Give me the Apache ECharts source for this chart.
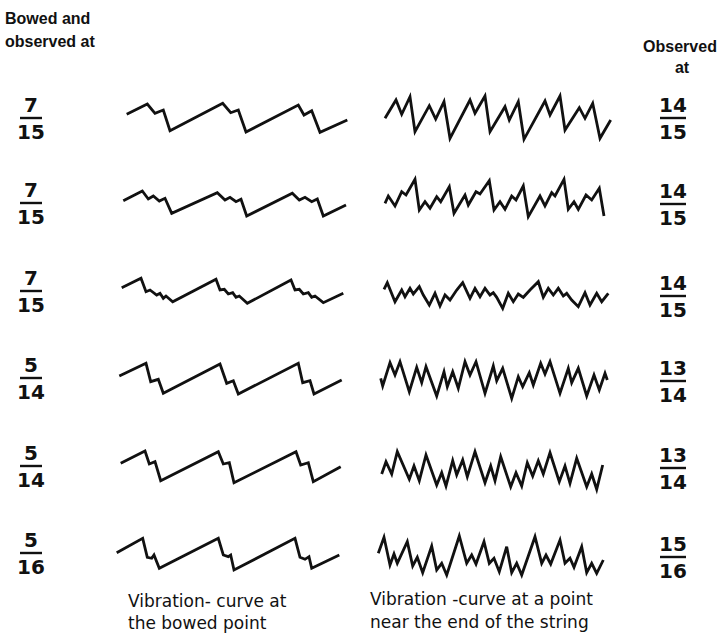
<!DOCTYPE html>
<html>
<head>
<meta charset="utf-8">
<script src="https://cdn.jsdelivr.net/npm/echarts@6/dist/echarts.min.js"></script>
<style>
  html, body { margin: 0; padding: 0; background: #fff; }
  #chart { width: 718px; height: 636px; }
</style>
</head>
<body>
<div id="chart"></div>
<script>
// Vibration curves of a bowed string: displacement (up positive) against time.
// Left column: curve at the bowed point; right column: curve near the end of the string.

const bowedAtNum = ['7', '7', '7', '5', '5', '5'];
const bowedAtDen = ['15', '15', '15', '14', '14', '16'];
const observedAtNum = ['14', '14', '14', '13', '13', '15'];
const observedAtDen = ['15', '15', '15', '14', '14', '16'];

const bowedCurve1 = [[16.7,3.7],[37.3,14],[45,4.7],[53.3,8],[60,-12.7],[112.7,14.7],[120.7,5.3],[128.3,8],[136,-14],[188.3,13],[194,3],[201.7,7.3],[210,-14.3],[237.3,-2]];
const endCurve1 = [[15,-0.3],[26,18],[31.7,3.7],[40,21.3],[45,-13.7],[59.3,12.3],[65.7,-1],[74,16.3],[80,-20.3],[100,18],[105,4.7],[115,22],[120,-13.7],[135,11.3],[139.3,-2],[148.3,16.3],[154,-21.3],[175,17],[180,3],[190,22],[195,-12],[209.3,10.3],[215,-0.3],[222.7,14.7],[230,-20.3],[240.7,-2]];

const bowedCurve2 = [[13.3,2.3],[32.3,12],[38.3,4],[43.3,7],[49.3,2],[55,4.7],[61.7,-10.3],[107.3,10.3],[115,3],[120,5.7],[126,1.3],[131,3.7],[136.7,-13],[182.3,9.7],[189.3,3],[195,5.7],[201.7,1.3],[207.3,4],[213.3,-13],[236,-2]];
const endCurve2 = [[15,-0.3],[18.3,7],[25,-3],[31.7,11.3],[36,8],[45,23.7],[49.3,-7],[55,1.3],[60,-5.3],[66.7,6.3],[70.7,1.3],[79.3,16.3],[84,-10.3],[95,8],[98.3,-2],[106,11.3],[110,9],[119.3,22.3],[124,-7],[130,1.3],[135,-6.3],[141.7,7],[146,3],[153.3,17],[158.3,-13.7],[170,7],[175,-3],[181.7,10.3],[185,7],[194,23.7],[198.3,-6.3],[204,1.3],[208.3,-6.3],[216,8],[221.7,3],[229.3,14.7],[234,-13]];

const bowedCurve3 = [[11.7,3.3],[31,12.7],[36,-0.7],[40,1],[46.7,-4],[50,-2.3],[53.3,-7.3],[56,-5],[62.7,-10.7],[106,11.7],[110,1],[114.3,1.7],[118.3,-3],[122.7,-1.7],[126,-6.3],[129.3,-5],[137.3,-12.3],[181,11],[185,1],[189.3,1.7],[193.3,-3],[198.3,-1.7],[201.7,-6.3],[205,-5],[213.3,-11.7],[233.3,-2.3]];
const endCurve3 = [[14,1.7],[17.3,8.3],[25,-10.7],[31.7,1],[35,-5.7],[40,2.7],[43.3,-3],[49.3,4.3],[53.3,-4],[59.3,-14],[65,-2.3],[70,-15],[75,-4],[80,-9],[86.7,1],[92.7,8.3],[100,-7.3],[105,2.7],[110,-5.7],[115,2.7],[120,-4],[123.3,-1.7],[126.7,-6.3],[132.7,-17.3],[138.3,-2.3],[143.3,-10.7],[148.3,-3],[153.3,-6.3],[160,1],[168.3,9.3],[173.3,-6.3],[178.3,2.7],[183.3,-4],[188.3,2.7],[193.3,-5],[196.7,-2.3],[201.7,-9],[208.3,-15.7],[215,-1.7],[220,-14],[226.7,-2.3],[231.7,-10.7],[238.3,-2.3]];

const bowedCurve4 = [[9.3,2],[36,14.7],[40.7,-3.7],[48.3,-1.3],[53.3,-15.3],[110,14],[116.7,-5.3],[123.3,-2.7],[128.3,-16],[188.3,14.7],[192.7,-4.7],[200,-2.7],[204,-16],[231.7,-2]];
const endCurve4 = [[10.7,-0.3],[12.7,-8],[20,15.3],[25,3],[30,16.3],[39.3,-13.7],[46.7,10.7],[51.7,-4.7],[56,11.3],[66.7,-18],[74,6.3],[77.3,-8.7],[82.7,6.3],[88.3,-10.3],[95,16.3],[100,3],[106,16.3],[115,-15.3],[123.3,12],[126.7,-2.7],[132.7,9.7],[141.7,-20.3],[148.3,1.3],[152.7,-8.7],[159.3,5.3],[163.3,-7],[170.7,14.7],[175,4],[180,16.3],[190,-15.3],[198.3,9.7],[201.7,-4.7],[208.3,9.7],[216.7,-18],[224,3],[229.3,-12],[235,4.7],[237.3,-2]];

const bowedCurve5 = [[10.7,2.7],[35,15],[39.3,2],[45,4.3],[50.7,-14.7],[108.3,14.3],[113.3,2],[119.3,3.3],[124,-16.7],[186,14.3],[190.7,1],[198.3,3.3],[203.3,-15.7],[230.7,-0.7]];
const endCurve5 = [[11.7,-8],[16,4.3],[21.7,-8],[27.3,14.3],[39.3,-13.3],[44,0],[49.3,-14.7],[56,11],[66.7,-19],[71.7,-6.7],[76,-20],[82.7,5.3],[86.7,-9],[92.7,6],[97.3,-10.7],[105,14.3],[115,-16.7],[120.7,0],[125,-14.7],[130.7,9.3],[140.7,-20.7],[146,-6.7],[151.7,-20],[157.3,3.3],[162.7,-10],[168.3,5.3],[173.3,-8],[180,13.3],[189.3,-15.7],[195,0],[200,-17.3],[206.7,7.7],[216.7,-20.7],[221.7,-8],[226.7,-23.3],[232.7,1]];

const bowedCurve6 = [[6.7,0.3],[32.7,14.7],[37.3,-4.3],[41.7,-5.3],[44,-2],[49.3,-15.3],[108.3,14.7],[113.3,-2],[118.3,-3.7],[120.7,-2],[124,-17],[185,14.7],[190,-4.3],[195,-6.3],[199,-3.7],[201.7,-15.3],[229.3,-2]];
const endCurve6 = [[8.3,-0.3],[14,15.7],[20,-12],[24,-1],[27.3,-10.3],[37.3,11.3],[42.7,-13],[47.3,-4.3],[52.7,-19.7],[61.7,7],[66.7,-17],[71.7,-10.3],[76.7,-22],[89.3,17],[96.7,-10.3],[101.7,-2],[106,-11],[114,11.3],[119.3,-10.3],[124,-5.3],[129.3,-18.7],[136.7,6.3],[141.7,-19.7],[146.7,-10.3],[151.7,-22],[165,16.3],[171.7,-10.3],[176,-2],[180.7,-11],[190,13],[195,-10.3],[200,-5.3],[204,-14.3],[211.7,6.3],[216.7,-19.7],[221.7,-10.3],[226.7,-20.3],[233.3,-7]];

const bowedCurves = [bowedCurve1, bowedCurve2, bowedCurve3, bowedCurve4, bowedCurve5, bowedCurve6];
const endCurves = [endCurve1, endCurve2, endCurve3, endCurve4, endCurve5, endCurve6];

// Layout
const rowCenters = [118, 203, 291, 378, 466, 553];
const rightFracCenters = [118, 204, 296, 381, 468, 557];
const plotW = 250, plotH = 60;
const leftPlotX = 110, rightPlotX = 370;
const INK = '#111';
const FONT = '"DejaVu Sans", sans-serif';
const HEAD_FONT = '"Liberation Sans", Arial, sans-serif';

const grids = [], xAxes = [], yAxes = [], series = [];
function addCurve(data, left, cy) {
  const i = grids.length;
  grids.push({ left: left, top: cy - plotH / 2, width: plotW, height: plotH, containLabel: false });
  xAxes.push({ gridIndex: i, type: 'value', min: 0, max: plotW, show: false });
  yAxes.push({ gridIndex: i, type: 'value', min: -plotH / 2, max: plotH / 2, show: false });
  series.push({
    type: 'line', xAxisIndex: i, yAxisIndex: i, data: data,
    showSymbol: false, symbol: 'none', smooth: false,
    lineStyle: { color: INK, width: 2.8, join: 'miter', cap: 'butt' },
    silent: true
  });
}
rowCenters.forEach((cy, r) => {
  addCurve(bowedCurves[r], leftPlotX, cy);
  addCurve(endCurves[r], rightPlotX, cy);
});

// A stacked fraction: numerator, bar, denominator
function fraction(num, den, cx, cy, halfW) {
  const f = '600 20px ' + FONT;
  return [
    { type: 'text', x: cx, y: cy - 23, style: { text: num, font: f, fill: INK, align: 'center' } },
    { type: 'line', shape: { x1: cx - halfW, y1: cy, x2: cx + halfW, y2: cy }, style: { stroke: INK, lineWidth: 2.4 } },
    { type: 'text', x: cx, y: cy + 4, style: { text: den, font: f, fill: INK, align: 'center' } }
  ];
}

const graphics = [];
rowCenters.forEach((cy, r) => {
  fraction(bowedAtNum[r], bowedAtDen[r], 31, cy, 11).forEach(g => graphics.push(g));
  fraction(observedAtNum[r], observedAtDen[r], 673, rightFracCenters[r], 13).forEach(g => graphics.push(g));
});

const headFont = 'bold 16px ' + HEAD_FONT;
const capFont = '17px ' + FONT;
graphics.push(
  { type: 'text', x: 5, y: 10, style: { text: 'Bowed and', font: headFont, fill: INK } },
  { type: 'text', x: 5, y: 33, style: { text: 'observed at', font: headFont, fill: INK } },
  { type: 'text', x: 680, y: 38, style: { text: 'Observed', font: headFont, fill: INK, align: 'center' } },
  { type: 'text', x: 682, y: 59, style: { text: 'at', font: headFont, fill: INK, align: 'center' } },
  { type: 'text', x: 128, y: 592, style: { text: 'Vibration- curve at', font: capFont, fill: INK } },
  { type: 'text', x: 128, y: 614, style: { text: 'the bowed point', font: capFont, fill: INK } },
  { type: 'text', x: 370, y: 590, style: { text: 'Vibration -curve at a point', font: capFont, fill: INK } },
  { type: 'text', x: 370, y: 613, style: { text: 'near the end of the string', font: capFont, fill: INK } }
);

const chart = echarts.init(document.getElementById('chart'), null, { renderer: 'svg' });
chart.setOption({
  animation: false,
  backgroundColor: '#fff',
  grid: grids,
  xAxis: xAxes,
  yAxis: yAxes,
  series: series,
  graphic: graphics
});
</script>
</body>
</html>
